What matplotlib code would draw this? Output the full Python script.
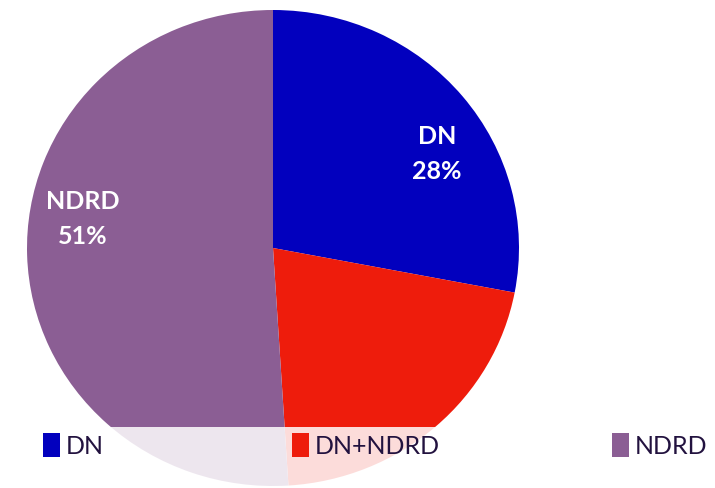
import matplotlib.pyplot as plt
from matplotlib.patches import Rectangle

# Diagnosis share
labels = ['DN', 'DN+NDRD', 'NDRD']
shares = [28, 21, 51]
colors = ['#0200BE', '#EE1C0C', '#8B5E94']

W, H = 715, 488
rx, ry = 246, 238
sy = rx / ry  # y data units per pixel, so the circle comes out slightly squashed

fig = plt.figure(figsize=(7.15, 4.88), dpi=100)
ax = fig.add_axes([0, 0, 1, 1])

cx, cy = 273, (H - 248) * sy
wedges, _ = ax.pie(shares, colors=colors, startangle=90, counterclock=False,
                   radius=rx, center=(cx, cy), frame=True,
                   wedgeprops=dict(linewidth=0))
ax.set_aspect('auto')
ax.set_xlim(0, W)
ax.set_ylim(0, H * sy)
ax.axis('off')

# slice labels
ax.text(437, (H - 154) * sy, 'DN\n28%', color='white', fontsize=18, fontweight='bold',
        ha='center', va='center', family='Lato', linespacing=1.6)
ax.text(83, (H - 219) * sy, 'NDRD\n51%', color='white', fontsize=18, fontweight='bold',
        ha='center', va='center', family='Lato', linespacing=1.6)

# legend band at the bottom
ax.add_patch(Rectangle((4, 0), W - 4, (H - 427) * sy, facecolor='white',
                       alpha=0.85, edgecolor='none', zorder=5))
leg_x = [43, 292, 612]
for x, lab, c in zip(leg_x, labels, colors):
    ax.add_patch(Rectangle((x, (H - 457) * sy), 17, 24 * sy, facecolor=c,
                           edgecolor='none', zorder=6))
    ax.text(x + 23, (H - 446) * sy, lab, color='#22123F', fontsize=18,
            ha='left', va='center', family='Lato', zorder=6)

fig.savefig('out.png', dpi=100)
